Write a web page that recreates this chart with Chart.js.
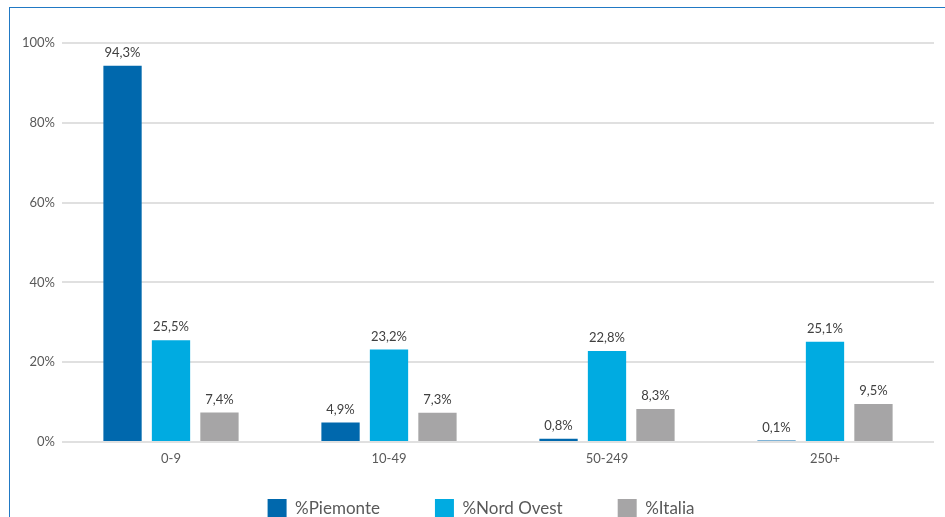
<!DOCTYPE html>
<html>
<head>
<meta charset="utf-8">
<script src="https://cdn.jsdelivr.net/npm/chart.js@4.4.1/dist/chart.umd.min.js"></script>
<style>
    html, body { margin: 0; padding: 0; background: #fff; overflow: hidden; }
    .wrap { position: relative; width: 945px; height: 517px; overflow: hidden; }
    .cornice { position: absolute; left: 9px; top: 7px; right: 0; bottom: 0; border-left: 1px solid #2179c4; border-top: 1px solid #2179c4; pointer-events: none; }
    canvas { position: absolute; left: 0; top: 0; }
</style>
</head>
<body>
<div class="wrap">
    <canvas id="grafico" width="945" height="551"></canvas>
    <div class="cornice"></div>
</div>
<script>
// dati
const classi = ['0-9', '10-49', '50-249', '250+'];
const piemonte = [94.3, 4.9, 0.8, 0.1];
const nordOvest = [25.5, 23.2, 22.8, 25.1];
const italia = [7.4, 7.3, 8.3, 9.5];
const tickY = [0, 20, 40, 60, 80, 100];

const fontBase = "Lato, 'Open Sans', sans-serif";

// etichette sopra le barre (niente plugin esterno disponibile)
const etichetteBarre = {
    id: 'etichetteBarre',
    afterDatasetsDraw(chart) {
        const ctx = chart.ctx;
        ctx.save();
        ctx.font = '13px ' + fontBase;
        ctx.fillStyle = '#404040';
        ctx.textAlign = 'center';
        ctx.textBaseline = 'middle';
        chart.data.datasets.forEach((ds, i) => {
            chart.getDatasetMeta(i).data.forEach((bar, j) => {
                const testo = ds.data[j].toFixed(1).replace('.', ',') + '%';
                ctx.fillText(testo, bar.x, bar.y - 13);
            });
        });
        ctx.restore();
    }
};

// la legenda dell'originale sta piu' in alto e un po' a destra
const spostaLegenda = {
    id: 'spostaLegenda',
    afterLayout(chart) {
        const l = chart.legend;
        l.left += 9; l.right += 9;
        l.top -= 23; l.bottom -= 23;
    }
};

new Chart(document.getElementById('grafico'), {
    type: 'bar',
    data: {
        labels: classi,
        datasets: [
            { label: '%Piemonte', data: piemonte, backgroundColor: '#0068ad', minBarLength: 1.5 },
            { label: '%Nord Ovest', data: nordOvest, backgroundColor: '#00abe1' },
            { label: '%Italia', data: italia, backgroundColor: '#a6a5a6' }
        ]
    },
    options: {
        responsive: false,
        animation: false,
        categoryPercentage: 0.667,
        barPercentage: 0.79,
        layout: { padding: { top: 43, left: 10, right: 11, bottom: 0 } },
        plugins: {
            legend: {
                position: 'bottom',
                labels: {
                    boxWidth: 19,
                    boxHeight: 19,
                    padding: 55,
                    color: '#595959',
                    font: { family: fontBase, size: 17 }
                }
            },
            tooltip: { enabled: false }
        },
        scales: {
            x: {
                grid: { display: false, drawTicks: false },
                border: { display: false },
                ticks: { color: '#595959', padding: 9, font: { family: fontBase, size: 13 } },
                afterFit(s) { s.height = 25; }
            },
            y: {
                min: 0,
                max: 100,
                afterBuildTicks(s) { s.ticks = tickY.map(v => ({ value: v })); },
                grid: { color: '#e0e0e0', lineWidth: 2, drawTicks: false },
                border: { display: false },
                ticks: {
                    color: '#595959',
                    padding: 7,
                    font: { family: fontBase, size: 13 },
                    callback: v => v + '%'
                },
                afterFit(s) { s.width = 52; }
            }
        }
    },
    plugins: [etichetteBarre, spostaLegenda]
});
</script>
</body>
</html>
